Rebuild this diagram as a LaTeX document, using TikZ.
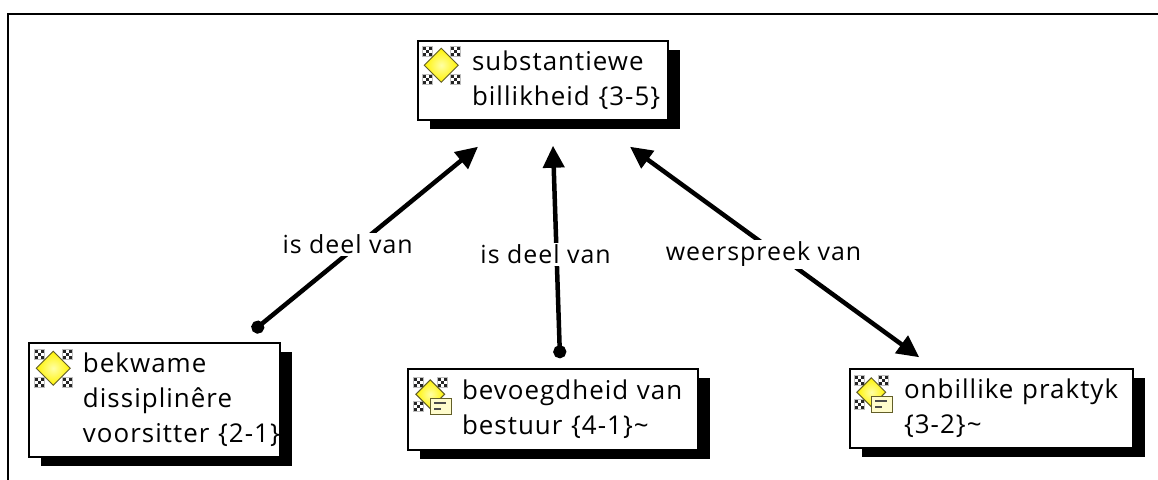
\documentclass[tikz,border=0pt]{standalone}
\usepackage{fontspec}
\setmainfont[LetterSpace=4]{Open Sans}
\usetikzlibrary{arrows.meta,positioning,shadows}
\newcommand\mapfont{\fontsize{25}{34}\selectfont}
\newcommand\boxfont{\fontsize{26}{35}\selectfont}
\tikzset{
	box/.style={draw,line width=1.5bp,fill=white,align=left,inner xsep=0bp,inner ysep=3bp,
		font=\boxfont,execute at begin node={\leftskip=54bp\exhyphenpenalty=10000},
		general shadow={fill=black,shadow xshift=12bp,shadow yshift=-9bp}},
	link/.style={line width=4.5bp,{Circle[length=13bp]}-{Triangle[length=22bp,width=21bp]}},
	twoway/.style={line width=4.5bp,{Triangle[length=22bp,width=21bp]}-{Triangle[length=22bp,width=21bp]}},
	lbl/.style={fill=white,inner sep=2bp,font=\mapfont},
	checks/.pic={
		\foreach \i/\j in {-1/-1,1/-1,0/0,-1/1,1/1}
			\fill[black!85] (\i*3.2-1.6,\j*3.2-1.6) rectangle ++(3.2,3.2);
		\draw[gray!50,line width=.4bp] (-4.8,-4.8) rectangle (4.8,4.8);
	},
	concept/.pic={
		\foreach \a/\b in {-14/-14,14/-14,-14/14,14/14}
			\pic at (\a,\b) {checks};
		\draw[olive!60!black,line width=1bp,inner color=yellow!35!white,outer color=yellow!90!orange]
			(0,-17) -- (17,0) -- (0,17) -- (-17,0) -- cycle;
	},
	note/.pic={
		\pic[scale=.85] at (-3,-3) {concept};
		\draw[olive!60!black,line width=1bp,fill=yellow!20!white] (-3,1) rectangle (18,17);
		\draw[black!70,line width=1.5bp] (1,6) -- (13,6) (1,12) -- (8,12);
	}
}
\begin{document}
\begin{tikzpicture}[x=1bp,y=-1bp]
	\useasboundingbox (0,0) rectangle (1158,480);
	\draw[line width=2bp] (8,480) -- (8,14) -- (1158,14);
	\node[box,text width=250bp,minimum height=79bp] (sub) at (543,80.5) {substantiewe\\billikheid \{3-5\}};
	\node[box,text width=251bp,minimum height=114bp] (bek) at (154.5,400) {bekwame\\dissiplinêre\\voorsitter \{2-1\}};
	\node[box,text width=290bp,minimum height=81bp] (bev) at (553,409.5) {bevoegdheid van\\bestuur \{4-1\}\textasciitilde};
	\node[box,text width=283bp,minimum height=79bp] (onb) at (991.5,408.5) {onbillike praktyk\\\{3-2\}\textasciitilde};
	\pic at ([shift={(24,25)}]sub.north west) {concept};
	\pic at ([shift={(25,26)}]bek.north west) {concept};
	\pic at ([shift={(26,29)}]bev.north west) {note};
	\pic at ([shift={(25,27)}]onb.north west) {note};
	\coordinate (d1) at ([shift={(-28,-11)}]bek.north east);
	\coordinate (t1) at ([shift={(-65,26)}]sub.south);
	\coordinate (d2) at ([shift={(7,-10)}]bev.north);
	\coordinate (t2) at ([shift={(10,25)}]sub.south);
	\coordinate (t3) at ([shift={(87,26)}]sub.south);
	\coordinate (t4) at ([shift={(70,-11)}]onb.north west);
	\draw[link] (d1) -- node[lbl,pos=.47,xshift=-11bp] {is deel van} (t1);
	\draw[link] (d2) -- node[lbl,pos=.49,xshift=-11bp] {is deel van} (t2);
	\draw[twoway] (t3) -- node[lbl,pos=.51,xshift=-14bp] {weerspreek van} (t4);
\end{tikzpicture}
\end{document}
